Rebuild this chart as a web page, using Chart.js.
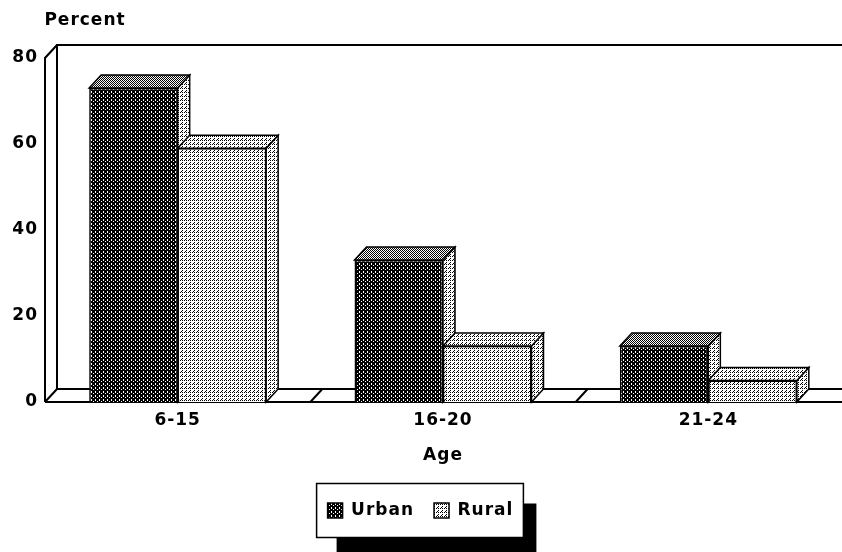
<!DOCTYPE html>
<html>
<head>
<meta charset="utf-8">
<script src="https://cdn.jsdelivr.net/npm/chart.js@4.4.0/dist/chart.umd.min.js"></script>
<style>
  html, body { margin: 0; padding: 0; background: #fff; }
</style>
</head>
<body>
<canvas id="chart" width="842" height="552"></canvas>
<script>
// data
const ageGroups = ['6-15', '16-20', '21-24'];
const urbanPct = [73, 33, 13];
const ruralPct = [59, 13, 5];
const yTicks = [0, 20, 40, 60, 80];
const seriesNames = ['Urban', 'Rural'];

const FONT = 'DejaVu Sans';
const DX = 12, DY = 13; // fake depth of the 3d look

// little dither patterns, like the old printout
function dither(bg, fg, dots) {
  const c = document.createElement('canvas');
  c.width = 4; c.height = 4;
  const g = c.getContext('2d');
  g.fillStyle = bg; g.fillRect(0, 0, 4, 4);
  g.fillStyle = fg;
  dots.forEach(([x, y]) => g.fillRect(x, y, 1, 1));
  return g.createPattern(c, 'repeat');
}
const darkFill = dither('#000', '#fff', [[1, 1], [3, 3], [3, 0]]);
const midFill = dither('#fff', '#000', [[0, 0], [2, 0], [1, 1], [3, 1], [0, 2], [2, 2], [1, 3], [3, 3]]);
const lightFill = dither('#fff', '#000', [[0, 0], [2, 2], [2, 0], [1, 3]]);

const faces = [
  { top: midFill, side: lightFill },   // urban
  { top: lightFill, side: lightFill }  // rural
];

function line(ctx, pts) {
  ctx.beginPath();
  ctx.moveTo(pts[0][0], pts[0][1]);
  for (let i = 1; i < pts.length; i++) ctx.lineTo(pts[i][0], pts[i][1]);
  ctx.stroke();
}
function poly(ctx, pts, fill) {
  ctx.beginPath();
  ctx.moveTo(pts[0][0], pts[0][1]);
  for (let i = 1; i < pts.length; i++) ctx.lineTo(pts[i][0], pts[i][1]);
  ctx.closePath();
  ctx.fillStyle = fill;
  ctx.fill();
  ctx.stroke();
}

const frame3d = {
  id: 'frame3d',
  beforeUpdate(chart) {
    // the printout's type is spaced out a little
    chart.ctx.letterSpacing = '1px';
  },
  beforeDraw(chart) {
    chart.ctx.letterSpacing = '1px';
    // legend box with its drop shadow
    const lg = chart.legend;
    if (!lg || !lg.legendHitBoxes || !lg.legendHitBoxes.length) return;
    const hb = lg.legendHitBoxes;
    const l = Math.min(...hb.map(h => h.left)) - 11;
    const r = Math.max(...hb.map(h => h.left + h.width)) + 10;
    const cy = hb[0].top + hb[0].height / 2;
    const t = cy - 27, b = cy + 27;
    const ctx = chart.ctx;
    ctx.save();
    ctx.fillStyle = '#000';
    ctx.fillRect(l + 20, t + 20, r - l - 7, b - t + 20);
    ctx.fillStyle = '#fff';
    ctx.fillRect(l, t, r - l, b - t);
    ctx.strokeStyle = '#000';
    ctx.lineWidth = 1.5;
    ctx.strokeRect(l, t, r - l, b - t);
    ctx.restore();
  },
  beforeDatasetsDraw(chart) {
    const { ctx, chartArea: a, scales: { x } } = chart;
    const W = chart.width;
    ctx.save();
    ctx.strokeStyle = '#000';
    ctx.lineWidth = 2;
    ctx.lineJoin = 'miter';
    // back wall and left wall
    line(ctx, [[a.left + DX, a.bottom - DY], [a.left + DX, a.top - DY], [W, a.top - DY]]);
    line(ctx, [[a.left, a.bottom], [a.left, a.top], [a.left + DX, a.top - DY]]);
    // floor
    line(ctx, [[a.left, a.bottom], [W, a.bottom]]);
    line(ctx, [[a.left + DX, a.bottom - DY], [W, a.bottom - DY]]);
    line(ctx, [[a.left, a.bottom], [a.left + DX, a.bottom - DY]]);
    for (let i = 1; i < ageGroups.length; i++) {
      const bx = (x.getPixelForValue(i - 1) + x.getPixelForValue(i)) / 2;
      line(ctx, [[bx, a.bottom], [bx + DX, a.bottom - DY]]);
    }
    // sides and tops of the bars, category by category so the fronts overlap right
    ctx.lineWidth = 1.5;
    for (let i = 0; i < ageGroups.length; i++) {
      chart.data.datasets.forEach((ds, d) => {
        const el = chart.getDatasetMeta(d).data[i];
        if (!el) return;
        const L = el.x - el.width / 2, R = el.x + el.width / 2;
        const T = el.y, B = el.base;
        poly(ctx, [[R, T], [R + DX, T - DY], [R + DX, B - DY], [R, B]], faces[d].side);
        poly(ctx, [[L, T], [L + DX, T - DY], [R + DX, T - DY], [R, T]], faces[d].top);
      });
    }
    ctx.restore();
  },
  afterDraw(chart) {
    const { ctx, chartArea: a } = chart;
    ctx.save();
    ctx.letterSpacing = '1px';
    ctx.font = 'bold 17px "' + FONT + '"';
    ctx.fillStyle = '#000';
    ctx.textAlign = 'center';
    ctx.textBaseline = 'middle';
    ctx.fillText('Percent', a.left + 40, 21);
    ctx.restore();
  }
};

new Chart(document.getElementById('chart'), {
  type: 'bar',
  data: {
    labels: ageGroups,
    datasets: [
      { label: seriesNames[0], data: urbanPct, backgroundColor: darkFill, borderColor: '#000', borderWidth: 1.5 },
      { label: seriesNames[1], data: ruralPct, backgroundColor: lightFill, borderColor: '#000', borderWidth: 1.5 }
    ]
  },
  options: {
    responsive: false,
    animation: false,
    layout: { padding: { top: 58, right: 1, left: 0, bottom: 23 } },
    datasets: { bar: { categoryPercentage: 0.667, barPercentage: 1.0 } },
    scales: {
      x: {
        grid: { display: false, drawTicks: false },
        border: { display: false },
        ticks: { color: '#000', padding: 8, font: { family: FONT, size: 17, weight: 'bold' } },
        title: { display: true, text: 'Age', color: '#000', padding: { top: 4, bottom: 16 }, font: { family: FONT, size: 17, weight: 'bold' } },
        afterFit: s => { s.height = 80; }
      },
      y: {
        min: 0, max: 80,
        afterBuildTicks: s => { s.ticks = yTicks.map(v => ({ value: v })); },
        grid: { display: false, drawTicks: false },
        border: { display: false },
        ticks: { color: '#000', padding: 7, font: { family: FONT, size: 17, weight: 'bold' } },
        afterFit: s => { s.width = 45; }
      }
    },
    plugins: {
      legend: {
        position: 'bottom',
        labels: {
          color: '#000',
          boxWidth: 15, boxHeight: 15,
          padding: 20,
          font: { family: FONT, size: 17, weight: 'bold' }
        }
      },
      tooltip: { enabled: false }
    }
  },
  plugins: [frame3d]
});
</script>
</body>
</html>
